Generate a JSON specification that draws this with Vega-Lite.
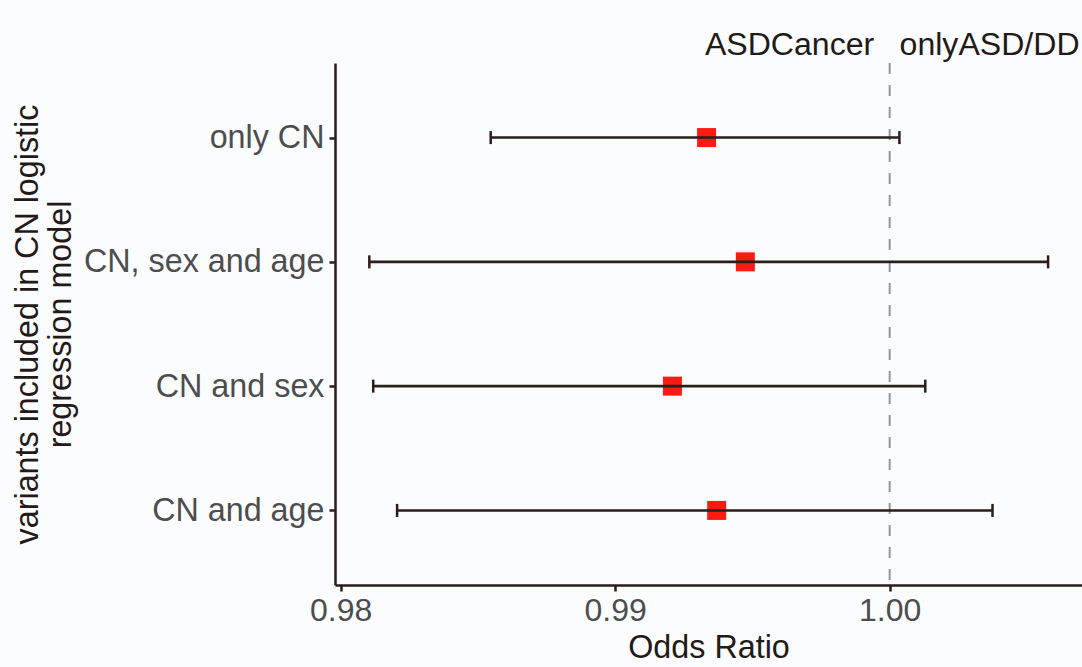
{
  "$schema": "https://vega.github.io/schema/vega-lite/v6.json",
  "width": 747,
  "height": 522,
  "autosize": {"type": "none"},
  "padding": {"left": 335, "top": 63, "right": 0, "bottom": 82},
  "background": "#fbfcfe",
  "config": {
    "view": {"stroke": null},
    "font": "Liberation Sans",
    "axis": {"grid": false}
  },
  "data": {
    "values": [
      {"model": "only CN", "or": 0.99333, "lower": 0.985468, "upper": 1.000354},
      {"model": "CN, sex and age", "or": 0.994743, "lower": 0.981046, "upper": 1.00577},
      {"model": "CN and sex", "or": 0.992087, "lower": 0.981188, "upper": 1.001297},
      {"model": "CN and age", "or": 0.993698, "lower": 0.982058, "upper": 1.003745}
    ]
  },
  "resolve": {"axis": {"x": "independent"}},
  "layer": [
    {
      "data": {"values": [{"ref": 1.0, "label": "x"}]},
      "mark": {"type": "rule", "strokeDash": [11, 11], "color": "#9a9594", "strokeWidth": 2},
      "encoding": {
        "x": {
          "field": "ref",
          "type": "quantitative",
          "scale": {"domain": [0.979796, 1.007005], "nice": false, "zero": false},
          "axis": {
            "orient": "top",
            "values": [0.996335, 1.003621],
            "labelExpr": "datum.value < 1 ? 'ASDCancer' : 'onlyASD/DD'",
            "domain": false,
            "ticks": false,
            "labelPadding": 2,
            "labelFlush": false,
            "labelOverlap": false,
            "labelLimit": 0,
            "labelFontSize": 32.1,
            "labelColor": "#231a17",
            "title": null
          }
        }
      }
    },
    {
      "mark": {"type": "point", "shape": "square", "filled": true, "size": 361, "color": "#fd1a13", "opacity": 1},
      "encoding": {
        "x": {
          "field": "or",
          "type": "quantitative",
          "axis": {
            "orient": "bottom",
            "values": [0.98, 0.99, 1.0],
            "format": ".2f",
            "labelFlush": false,
            "labelOverlap": false,
            "labelFontSize": 32,
            "labelColor": "#4d4d4d",
            "labelPadding": 4,
            "tickSize": 6,
            "tickWidth": 2.5,
            "tickColor": "#2b1d1a",
            "domainColor": "#2b1d1a",
            "domainWidth": 2.5,
            "title": "Odds Ratio",
            "titleFontSize": 32.3,
            "titleFontWeight": "normal",
            "titleColor": "#231a17",
            "titlePadding": 5
          }
        },
        "y": {
          "field": "model",
          "type": "ordinal",
          "sort": ["only CN", "CN, sex and age", "CN and sex", "CN and age"],
          "scale": {"type": "point", "padding": 0.6},
          "axis": {
            "labelFontSize": 32.3,
            "labelColor": "#4d4d4d",
            "labelPadding": 5,
            "labelLimit": 0,
            "tickSize": 6,
            "tickWidth": 2.5,
            "tickColor": "#2b1d1a",
            "domainColor": "#2b1d1a",
            "domainWidth": 2.5,
            "title": ["variants included in CN logistic", "regression model"],
            "titleFontSize": 32.3,
            "titleFontWeight": "normal",
            "titleColor": "#231a17",
            "titleLineHeight": 33,
            "titleX": -291
          }
        }
      }
    },
    {
      "mark": {"type": "rule", "color": "#2b1d1a", "strokeWidth": 2.6},
      "encoding": {
        "x": {"field": "lower", "type": "quantitative", "axis": null},
        "x2": {"field": "upper"},
        "y": {"field": "model", "type": "ordinal", "sort": ["only CN", "CN, sex and age", "CN and sex", "CN and age"]}
      }
    },
    {
      "mark": {"type": "tick", "color": "#2b1d1a", "size": 13, "thickness": 2.5, "opacity": 1},
      "encoding": {
        "x": {"field": "lower", "type": "quantitative", "axis": null},
        "y": {"field": "model", "type": "ordinal", "sort": ["only CN", "CN, sex and age", "CN and sex", "CN and age"]}
      }
    },
    {
      "mark": {"type": "tick", "color": "#2b1d1a", "size": 13, "thickness": 2.5, "opacity": 1},
      "encoding": {
        "x": {"field": "upper", "type": "quantitative", "axis": null},
        "y": {"field": "model", "type": "ordinal", "sort": ["only CN", "CN, sex and age", "CN and sex", "CN and age"]}
      }
    }
  ]
}
